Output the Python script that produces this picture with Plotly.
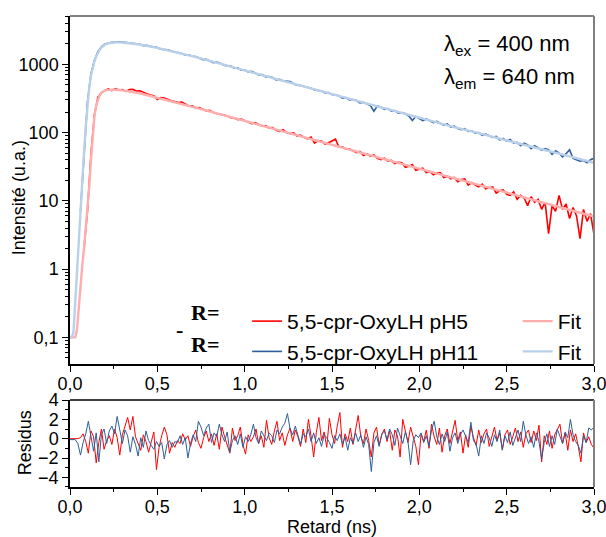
import plotly.graph_objects as go

# ---------------- data ----------------
t_fit = [0.00, 0.01, 0.02, 0.03, 0.04, 0.05, 0.06, 0.07, 0.08, 0.09, 0.10,
         0.11, 0.12, 0.13, 0.14, 0.15, 0.16, 0.17, 0.18, 0.19, 0.20,
         0.22, 0.24, 0.26, 0.28, 0.30,
         0.4, 0.5, 0.6, 0.7, 0.8, 0.9, 1.0, 1.1, 1.2, 1.3, 1.4, 1.5, 1.6, 1.7,
         1.8, 1.9, 2.0, 2.1, 2.2, 2.3, 2.4, 2.5, 2.6, 2.7, 2.8, 2.9, 3.0]

fit_ph11 = [0.1, 0.1, 0.12, 0.35, 1.0, 2.8, 7.5, 20, 50, 120, 260,
            450, 680, 900, 1100, 1300, 1480, 1630, 1760, 1860, 1940,
            2030, 2070, 2090, 2090, 2080,
            1950, 1740, 1510, 1320, 1120, 955, 813, 692, 589, 501, 427, 363, 309, 263,
            224, 191, 162, 140, 120, 104, 89, 77, 66, 57, 49, 42, 36]

fit_ph5 = [0.1, 0.1, 0.1, 0.1, 0.13, 0.28, 0.6, 1.1, 2.0, 3.8, 7.5,
           16, 40, 95, 175, 250, 310, 355, 385, 402, 412,
           422, 425, 424, 420, 415,
           376, 324, 279, 240, 204, 174, 148, 126, 107, 91, 78, 66, 56, 48,
           41, 35, 29.5, 25.1, 21.4, 18.2, 15.5, 13.2, 11.2, 9.5, 8.1, 6.9, 5.9]

t_data = [round(0.06 + 0.02 * i, 2) for i in range(148)]

data_ph11 = [7, 55, 280, 720, 1150, 1530, 1800, 1990, 2050, 2090, 2100, 2140, 2110,
             2080, 2030, 2040, 1990, 1960, 1870, 1890, 1830, 1800, 1760,
             1660, 1650, 1630, 1560, 1500, 1490, 1440, 1370, 1380, 1310,
             1300, 1240, 1170, 1180, 1110, 1060, 1080, 1040, 970, 950,
             940, 880, 890, 820, 825, 770, 790, 745, 700, 705,
             655, 660, 640, 590, 600, 575, 570, 560, 520, 495,
             490, 475, 470, 445, 420, 410, 405, 380, 385, 360,
             350, 345, 320, 325, 300, 305, 295, 272, 278, 262,
             248, 205, 246, 236, 218, 225, 206, 210, 192, 196,
             188, 175, 150, 172, 160, 150, 158, 150, 140, 146,
             138, 128, 134, 120, 124, 115, 110, 114, 104, 106,
             98, 100, 91, 95, 90, 85, 88, 78, 82, 75,
             79, 70, 72, 64, 70, 66, 58, 64, 60, 55,
             58, 56, 48, 54, 50, 44, 49, 56, 42, 40,
             38, 39, 36, 40, 42]

data_ph5 = [None, 2.0, 7, 48, 185, 330, 380, 415, 435, 410, 440, 420, 425,
            400, 425, 430, 405, 410, 385, 370, 355, 345, 305,
            325, 320, 305, 292, 285, 275, 280, 258, 245, 246,
            230, 232, 220, 208, 212, 196, 190, 183, 180, 175,
            165, 163, 154, 158,
            150, 146, 135, 140, 131, 124, 126, 117, 118, 108,
            104, 110, 100, 96, 99, 89, 92, 85, 81, 86,
            70, 76, 75, 68, 71, 76, 80, 61, 62, 57,
            58, 54, 51, 53, 46, 49, 45, 47, 42, 40,
            42, 38, 39, 35, 36.5, 36, 31, 32, 34, 28,
            29, 30, 26, 27, 24, 25.5, 26, 22, 23, 21,
            22, 19, 20.5, 21, 17, 18.5, 17, 16, 17.5, 15,
            15.5, 16, 13, 14, 14.5, 12.5, 12, 13.5, 10.5, 12,
            11, 8.5, 11.5, 9.5, 10.5, 7.5, 9.5, 3.3, 8.5, 7,
            12, 7.5, 9, 5.5, 8, 6, 2.8, 7.5, 5, 6.5,
            3.2]

t_res = [round(0.015 * i, 3) for i in range(201)]

res_ph5 = [0, 0, 0, 0, 0.1, 0.5, -0.3, -1.5, 0.8, 0.2,
           -2.5, -0.4, 1.0, -1.1, -0.2, 0.3, -0.6, 1.0, 0.1, -1.7,
           0.4, 1.2, 2.2, 0.9, 2.3, 0.2, -0.5, -1.2, 0.4, -0.3,
           -1.4, -0.2, 0.7, -3.2, -0.9, 0.3, 1.2, 0.4, -1.5, -0.4,
           -0.9, -0.2, -0.5, 0.5, -0.1, 0.3, -0.8, 0.2, 0.9, -0.4,
           -1.0, 0.1, 0.8, -0.3, 0.5, -0.7, 0.5, -1.1, 1.2, 0.2,
           -0.6, -1.5, 1.1, -0.2, 0.3, 1.2, -0.6, -1.6, 0.4, -0.3,
           0.2, 1.0, -0.5, 0.3, -0.9, 1.9, 0.1, -0.6, 0.8, 1.8,
           -0.2, 0.6, -0.7, 0.4, 1.1, -0.3, 0.9, 0.2, -0.8, 1.0,
           -0.4, 2.0, 0.3, -1.9, 0.6, 2.2, -0.2, 0.7, -0.9, 2.1,
           0.4, -0.5, 1.3, 2.7, -0.9, 0.5, -0.3, 1.1, -0.6, 0.8,
           2.4, 0.2, -0.5, 1.0, -0.2, -1.9, 0.6, 1.2, -0.7, 0.4,
           1.0, -0.3, 0.8, -1.2, 0.9, 0.3, -1.9, 2.0, 0.6, -0.4,
           1.2, 0.1, -0.8, -2.7, 0.5, -0.3, 0.9, -1.0, 1.5, 0.2,
           -0.6, 1.1, -1.4, 0.3, 1.0, -0.5, 0.6, 1.9, -0.2, 0.7,
           -1.5, 0.4, -0.9, 1.3, 0.1, -0.7, 0.9, -0.4, 0.5, 1.0,
           -0.8, 0.3, 1.2, -0.2, 0.6, -1.1, 0.4, 0.9, -0.6, 0.2,
           1.1, -0.3, 0.7, -0.9, 0.5, 0.9, -0.4, 0.8, -0.2, 1.4,
           -2.4, 0.3, -0.6, 0.8, -1.0, 0.4, 1.0, 1.5, -0.5, 0.6,
           -1.2, 0.9, -0.3, 0.5, -0.8, -2.4, 0.6, -0.4, 0.2, -0.6,
           -1.0]

res_ph11 = [-0.1, -0.1, -0.1, -0.5, -1.7, -0.4, 0.5, 1.8, 0.3, -1.3,
            0.6, -2.4, 0.4, 1.0, -0.5, 0.8, 1.3, 0.5, 2.3, 0.7,
            -0.5, 0.9, 0.3, -1.4, 0.2, -0.6, -1.8, 0.1, -0.9, 0.8,
            -0.2, -0.7, -1.1, -0.3, -0.8, -0.4, -2.1, -0.6, -0.2, -0.9,
            -0.3, -0.4, 0.3, -0.6, 0.1, -2.0, -0.5, 0.4, -0.3, 1.8,
            1.2, 0.3, 1.1, 1.5, -0.4, 0.6, 0.2, 1.5, 0.4, -0.3,
            0.7, -1.4, -0.2, 0.3, -0.6, 0.5, -0.9, 0.2, -0.3, 0.4,
            1.5, 0.1, -0.5, 0.8, 0.3, -0.2, 0.6, 0.3, -0.4, 0.9,
            0.5, 1.2, 1.6, 2.6, 1.0, 0.4, 1.3, 0.2, -0.6, 0.5,
            0.2, 1.0, -0.3, 0.6, -0.5, 0.1, -0.8, 0.4, 0.1, -0.4,
            -1.0, 0.3, -0.2, 0.5, -0.6, 0.2, -1.2, 0.1, -0.5, 0.6,
            -0.3, 0.4, -0.9, 0.2, -0.6, -3.4, -0.4, 0.3, -0.8, 0.5,
            0.8, -0.1, 1.0, 0.4, -0.7, 1.1, 0.2, -0.5, 0.7, -0.3,
            -2.7, -0.2, 0.4, 0.1, 0.6, -0.4, 0.3, -0.8, 0.9, 1.8,
            0.2, -0.6, 0.5, -0.3, 0.7, -1.3, 0.1, 0.6, -0.5, 0.4,
            0.9, 0.2, -0.4, 1.7, -0.2, -0.6, -1.8, 0.3, -0.5, 0.6,
            0.1, -0.8, 0.4, -0.3, 0.9, -1.2, 0.3, -0.4, 0.7, -0.7,
            0.2, 0.9, -0.3, 1.8, 0.4, -0.5, 0.2, -0.9, 0.6, -0.3,
            -2.1, -0.4, 0.5, -0.8, 0.3, -0.6, 1.0, 0.2, -0.5, 0.7,
            0.1, 2.0, 0.4, -0.3, -0.7, -1.5, 0.3, -0.4, 1.1, 0.9,
            1.2]

x_ticks = [0.0, 0.5, 1.0, 1.5, 2.0, 2.5, 3.0]
y_ticks = [0.1, 1, 10, 100, 1000]
y_ticktext = ["0,1", "1", "10", "100", "1000"]
res_ticks = [-4, -2, 0, 2, 4]

label_ph5 = "5,5-cpr-OxyLH pH5"
label_ph11 = "5,5-cpr-OxyLH pH11"

# ---------------- styling ----------------
RED = "#ff0000"
BLUE = "#2e5f9a"
RED_FIT = "#ffadad"
BLUE_FIT = "#b9d0ea"
FONT = "Liberation Sans, Arial, sans-serif"

fig = go.Figure()

fig.add_trace(go.Scatter(x=t_data, y=data_ph5, mode="lines", name=label_ph5,
                         line=dict(color=RED, width=1.6), xaxis="x", yaxis="y",
                         legend="legend"))
fig.add_trace(go.Scatter(x=t_data, y=data_ph11, mode="lines", name=label_ph11,
                         line=dict(color=BLUE, width=1.6), xaxis="x", yaxis="y",
                         legend="legend"))
fig.add_trace(go.Scatter(x=t_fit, y=fit_ph5, mode="lines", name="Fit",
                         line=dict(color=RED_FIT, width=2.4), xaxis="x", yaxis="y",
                         legend="legend2"))
fig.add_trace(go.Scatter(x=t_fit, y=fit_ph11, mode="lines", name="Fit",
                         line=dict(color=BLUE_FIT, width=2.4), xaxis="x", yaxis="y",
                         legend="legend2"))
fig.add_trace(go.Scatter(x=t_res, y=res_ph5, mode="lines", showlegend=False,
                         line=dict(color=RED, width=1), xaxis="x2", yaxis="y2"))
fig.add_trace(go.Scatter(x=t_res, y=res_ph11, mode="lines", showlegend=False,
                         line=dict(color=BLUE, width=1), xaxis="x2", yaxis="y2"))

tickfont = dict(family=FONT, size=18, color="#000")
titlefont = dict(family=FONT, size=18, color="#000")

common_x = dict(range=[0, 3], tickvals=x_ticks, tickformat=".1f", ticks="outside",
                ticklen=6, tickwidth=1.2, tickcolor="#000", showline=True,
                linecolor="#000", linewidth=1.5, showgrid=False, zeroline=False,
                tickfont=tickfont, automargin=False, ticklabeloverflow="allow",
                ticklabelstandoff=-3,
                minor=dict(tickvals=[0.25, 0.75, 1.25, 1.75, 2.25, 2.75],
                           ticks="outside", ticklen=3, tickcolor="#000", tickwidth=1))

fig.update_layout(
    width=606, height=537,
    margin=dict(l=70, r=12, t=16, b=50),
    paper_bgcolor="white", plot_bgcolor="white",
    separators=", ",
    font=dict(family=FONT, color="#000"),
    xaxis=dict(domain=[0, 1], anchor="y", **common_x),
    xaxis2=dict(domain=[0, 1], anchor="y2",
                title=dict(text="Retard (ns)", font=titlefont, standoff=0),
                **common_x),
    yaxis=dict(domain=[0.2611, 1], anchor="x", type="log", range=[-1.39, 3.707],
               tickvals=y_ticks, ticktext=y_ticktext, ticks="outside", ticklen=6,
               tickwidth=1.2, tickcolor="#000", showline=True, linecolor="#000",
               linewidth=1.5, showgrid=False, zeroline=False, tickfont=tickfont,
               automargin=False,
               minor=dict(tickvals=[m * 10 ** e for e in range(-2, 4) for m in range(2, 10)],
                          ticks="outside", ticklen=3, tickcolor="#000", tickwidth=1)),
    yaxis2=dict(domain=[0, 0.1847], anchor="x2", range=[-5, 4], tickvals=res_ticks,
                ticks="outside", ticklen=6, tickwidth=1.2, tickcolor="#000",
                showline=True, linecolor="#000", linewidth=1.5, showgrid=False,
                zeroline=False, tickfont=tickfont, automargin=False,
                minor=dict(tickvals=[-5, -3, -1, 1, 3], ticks="outside", ticklen=3,
                           tickcolor="#000", tickwidth=1)),
    legend=dict(x=0.338, y=0.395, xanchor="left", yanchor="top",
                bgcolor="rgba(0,0,0,0)", font=dict(family=FONT, size=21, color="#000")),
    legend2=dict(x=0.986, y=0.395, xanchor="right", yanchor="top",
                 bgcolor="rgba(0,0,0,0)", font=dict(family=FONT, size=21, color="#000")),
    showlegend=True,
)

# frame lines (top/right borders)
fig.add_shape(type="line", xref="x domain", yref="y domain", x0=0, x1=1, y0=1, y1=1,
              line=dict(color="#808080", width=2))
fig.add_shape(type="line", xref="x domain", yref="y domain", x0=1, x1=1, y0=0, y1=1,
              line=dict(color="#808080", width=2))
fig.add_shape(type="line", xref="x2 domain", yref="y2 domain", x0=0, x1=1, y0=1, y1=1,
              line=dict(color="#000", width=1.5))
fig.add_shape(type="line", xref="x2 domain", yref="y2 domain", x0=1, x1=1, y0=0, y1=1,
              line=dict(color="#808080", width=2))

# y-axis titles (placed close to the tick labels, as in the reference)
fig.add_annotation(xref="paper", yref="paper", x=-0.097, y=0.6136, xanchor="center",
                   yanchor="middle", showarrow=False, textangle=-90,
                   text="Intensité (u.a.)", font=titlefont)
fig.add_annotation(xref="paper", yref="paper", x=-0.086, y=0.095, xanchor="center",
                   yanchor="middle", showarrow=False, textangle=-90,
                   text="Residus", font=titlefont)

# annotations
lam_font = dict(family=FONT, size=22, color="#000")
fig.add_annotation(xref="paper", yref="paper", x=0.71, y=0.938, xanchor="left",
                   yanchor="middle", showarrow=False,
                   text="λ<sub>ex</sub> = 400 nm", font=lam_font)
fig.add_annotation(xref="paper", yref="paper", x=0.71, y=0.868, xanchor="left",
                   yanchor="middle", showarrow=False,
                   text="λ<sub>em</sub> = 640 nm", font=lam_font)

serif = dict(family="Liberation Serif, Times New Roman, serif", size=22, color="#000")
fig.add_annotation(xref="paper", yref="paper", x=0.2576, y=0.3715, xanchor="center",
                   yanchor="middle", showarrow=False, text="<b>R=</b>", font=serif)
fig.add_annotation(xref="paper", yref="paper", x=0.2576, y=0.3036, xanchor="center",
                   yanchor="middle", showarrow=False, text="<b>R=</b>", font=serif)
fig.add_annotation(xref="paper", yref="paper", x=0.2099, y=0.334, xanchor="center",
                   yanchor="middle", showarrow=False, text="<b>-</b>", font=serif)

fig.write_html("out.html", config={"displayModeBar": False},
               post_script="document.body.style.margin='0px';")
